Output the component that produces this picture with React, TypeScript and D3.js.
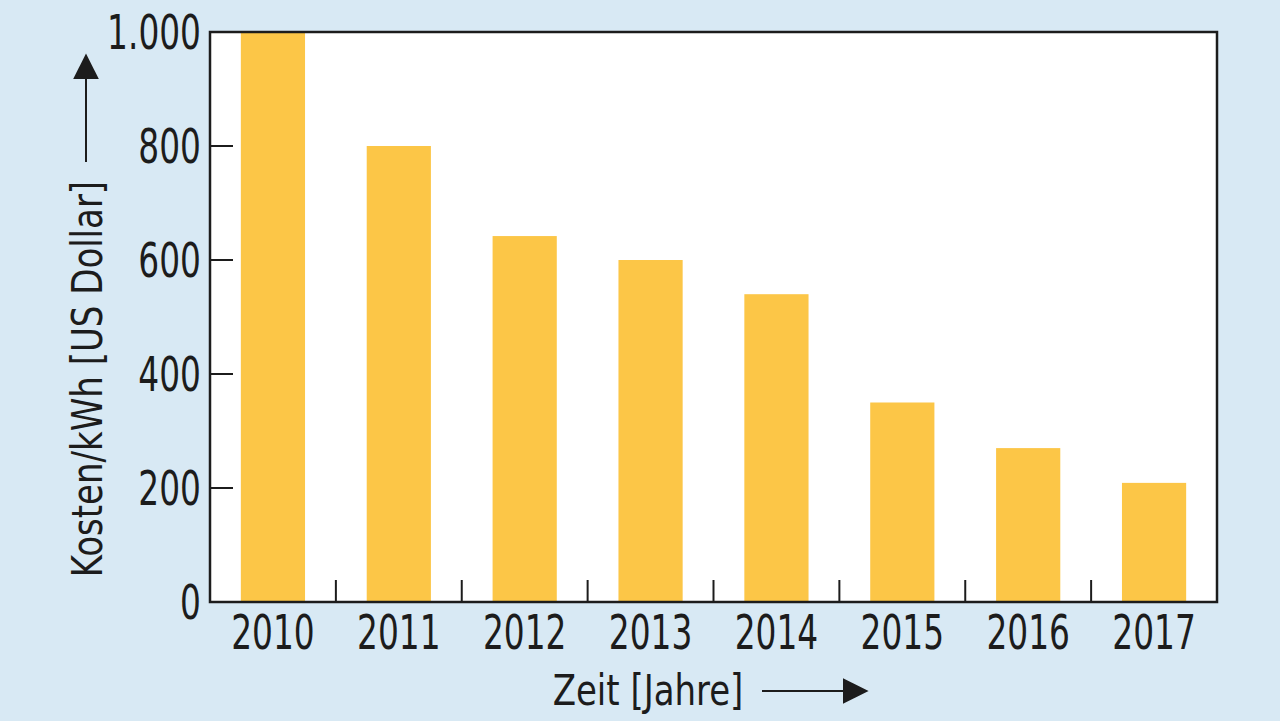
import React from 'react';
import * as d3 from 'd3';

const years = ['2010', '2011', '2012', '2013', '2014', '2015', '2016', '2017'];
const costs = [1000, 800, 642, 600, 540, 350, 270, 209];
const yTicks = [0, 200, 400, 600, 800, 1000];

const W = 1280;
const H = 721;
const plot = { left: 210, right: 1217, top: 32, bottom: 602 };
const font = "'DejaVu Sans Condensed', 'DejaVu Sans', sans-serif";
const ink = '#1c1c1c';

// condensed text: squeeze horizontally to mimic the narrow face of the original
const Txt: React.FC<{ x: number; y: number; rot?: number; sx?: number; size: number; anchor?: string; dy?: string; children: React.ReactNode }> = ({ x, y, rot = 0, sx = 0.8, size, anchor = 'middle', dy, children }) => (
  <g transform={`translate(${x},${y}) rotate(${rot}) scale(${sx},1)`}>
    <text textAnchor={anchor} dy={dy} fontFamily={font} fontSize={size} fill={ink}>
      {children}
    </text>
  </g>
);

const App: React.FC = () => {
  const x = d3.scaleBand<string>().domain(years).range([plot.left, plot.right]).paddingInner(0.49).paddingOuter(0.245);
  const y = d3.scaleLinear().domain([0, 1000]).range([plot.bottom, plot.top]);
  const step = (plot.right - plot.left) / years.length;
  const fmt = (v: number) => d3.format(',')(v).replace(',', '.');

  return (
    <svg width={W} height={H} style={{ position: 'absolute', left: 0, top: 0 }}>
      <defs>
        <marker id="arrow" viewBox="0 0 10 10" refX="9" refY="5" markerWidth="26" markerHeight="26" markerUnits="userSpaceOnUse" orient="auto">
          <path d="M0,0 L10,5 L0,10 Z" fill={ink} />
        </marker>
      </defs>
      <rect width={W} height={H} fill="#d8e9f4" />
      <rect x={plot.left} y={plot.top} width={plot.right - plot.left} height={plot.bottom - plot.top} fill="#fff" />

      {years.map((yr, i) => (
        <rect key={yr} x={x(yr)} y={y(costs[i])} width={x.bandwidth()} height={y(0) - y(costs[i])} fill="#fcc647" />
      ))}

      {yTicks.slice(1, -1).map((t) => (
        <line key={t} x1={plot.left} x2={plot.left + 23} y1={y(t)} y2={y(t)} stroke={ink} strokeWidth={2} />
      ))}
      {years.slice(1).map((yr, i) => (
        <line key={yr} x1={plot.left + step * (i + 1)} x2={plot.left + step * (i + 1)} y1={plot.bottom} y2={plot.bottom - 22} stroke={ink} strokeWidth={2} />
      ))}

      <rect x={plot.left} y={plot.top} width={plot.right - plot.left} height={plot.bottom - plot.top} fill="none" stroke={ink} strokeWidth={2.5} />

      {yTicks.map((t) => (
        <Txt key={t} x={201} y={y(t)} dy="0.36em" anchor="end" size={48} sx={0.76}>
          {fmt(t)}
        </Txt>
      ))}
      {years.map((yr) => (
        <Txt key={yr} x={(x(yr) as number) + x.bandwidth() / 2} y={649} size={48} sx={0.76}>
          {yr}
        </Txt>
      ))}

      <Txt x={102} y={379} rot={-90} size={42} sx={0.9}>
        Kosten/kWh [US Dollar]
      </Txt>
      <line x1={86} x2={86} y1={162} y2={56} stroke={ink} strokeWidth={2} markerEnd="url(#arrow)" />

      <Txt x={648} y={705} size={42} sx={0.9}>
        Zeit [Jahre]
      </Txt>
      <line x1={762} x2={866} y1={691} y2={691} stroke={ink} strokeWidth={2} markerEnd="url(#arrow)" />
    </svg>
  );
};

export default App;
